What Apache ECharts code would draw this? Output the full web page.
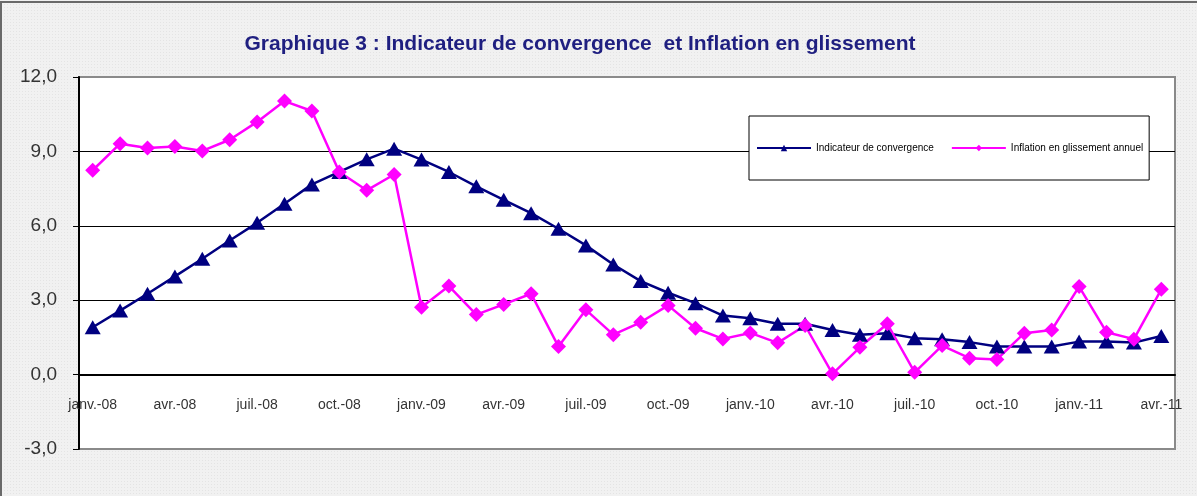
<!DOCTYPE html>
<html>
<head>
<meta charset="utf-8">
<script src="https://cdn.jsdelivr.net/npm/echarts@6/dist/echarts.min.js"></script>
<style>
    html, body { margin: 0; padding: 0; }
    body {
        width: 1197px; height: 496px; overflow: hidden;
        background-color: #f1f1f1;
        background-image: radial-gradient(#e4e4e4 0.8px, transparent 0.9px);
        background-size: 3px 3px;
    }
    #frame {
        position: absolute; left: 0; top: 1px; width: 1197px; height: 495px;
        border-top: 2px solid #6a6a6a; border-left: 2px solid #6a6a6a;
        box-sizing: border-box; pointer-events: none;
    }
    #chart { position: absolute; left: 0; top: 0; width: 1197px; height: 496px; }
</style>
</head>
<body>
<div id="chart"></div>
<div id="frame"></div>
<script>
    // mois de janv.-08 a avr.-11
    var moisNoms = ['janv.', 'févr.', 'mars', 'avr.', 'mai', 'juin', 'juil.', 'août', 'sept.', 'oct.', 'nov.', 'déc.'];
    var annees = ['08', '09', '10', '11'];
    var categories = [];
    annees.forEach(function (a) {
        moisNoms.forEach(function (m) {
            if (categories.length < 40) categories.push(m + '-' + a);
        });
    });

    var indicateur = [
        1.91, 2.58, 3.26, 3.96, 4.67, 5.41, 6.12, 6.89, 7.67, 8.17, 8.68, 9.11,
        8.67, 8.17, 7.59, 7.05, 6.51, 5.88, 5.21, 4.44, 3.77, 3.30, 2.88, 2.38,
        2.27, 2.05, 2.05, 1.80, 1.61, 1.67, 1.47, 1.43, 1.31, 1.13, 1.13, 1.13,
        1.33, 1.33, 1.29, 1.56
    ];
    var inflation = [
        8.24, 9.31, 9.14, 9.20, 9.02, 9.47, 10.19, 11.03, 10.63, 8.17, 7.43, 8.07,
        2.72, 3.57, 2.42, 2.83, 3.26, 1.13, 2.61, 1.61, 2.11, 2.79, 1.87, 1.44,
        1.68, 1.28, 1.98, 0.03, 1.10, 2.05, 0.09, 1.17, 0.66, 0.61, 1.67, 1.80,
        3.55, 1.71, 1.43, 3.44
    ];

    var yMin = -3, yMax = 12;
    var gridTop = 77, gridBottom = 47, chartHeight = 496;
    // deplacer l'axe des x sur la valeur 0
    var plotH = chartHeight - gridTop - gridBottom;
    var zeroOffset = -plotH * (0 - yMin) / (yMax - yMin);

    var chart = echarts.init(document.getElementById('chart'));

    var option = {
        animation: false,
        backgroundColor: 'transparent',
        title: {
            text: 'Graphique 3 : Indicateur de convergence  et Inflation en glissement',
            left: 575,
            textAlign: 'center',
            top: 29,
            textStyle: {
                fontFamily: 'Liberation Sans, Arial, sans-serif',
                fontSize: 21,
                fontWeight: 'bold',
                color: '#1f1f80'
            }
        },
        legend: {
            left: 749,
            top: 116,
            orient: 'horizontal',
            backgroundColor: '#fff',
            borderColor: '#000',
            borderWidth: 1,
            padding: [27, 6, 27, 7],
            itemWidth: 54,
            itemHeight: 8,
            itemGap: 17,
            textStyle: {
                fontFamily: 'Liberation Sans, Arial, sans-serif',
                fontSize: 10,
                color: '#000'
            },
            data: ['Indicateur de convergence', 'Inflation en glissement annuel']
        },
        grid: {
            left: 79,
            right: 22,
            top: gridTop,
            bottom: gridBottom,
            show: true,
            backgroundColor: '#fff',
            borderColor: '#8a8a8a',
            borderWidth: 2
        },
        xAxis: {
            type: 'category',
            data: categories,
            boundaryGap: true,
            position: 'bottom',
            offset: zeroOffset,
            axisLine: { onZero: false, lineStyle: { color: '#000', width: 2 } },
            axisTick: { interval: 2, length: 6, lineStyle: { color: '#000', width: 1 } },
            axisLabel: {
                interval: 2,
                margin: 24,
                fontFamily: 'Liberation Sans, Arial, sans-serif',
                fontSize: 14,
                color: '#333'
            },
            splitLine: { show: false }
        },
        yAxis: {
            type: 'value',
            min: yMin,
            max: yMax,
            interval: 3,
            axisLine: { show: true, lineStyle: { color: '#000', width: 2 } },
            axisTick: { show: true, length: 6, lineStyle: { color: '#000' } },
            axisLabel: {
                margin: 22,
                fontFamily: 'Liberation Sans, Arial, sans-serif',
                fontSize: 19,
                color: '#333',
                formatter: function (v) { return v.toFixed(1).replace('.', ','); }
            },
            splitLine: {
                show: true,
                showMinLine: false,
                showMaxLine: false,
                lineStyle: { color: '#000', width: 1 }
            }
        },
        series: [
            {
                name: 'Indicateur de convergence',
                type: 'line',
                data: indicateur,
                symbol: 'triangle',
                symbolSize: [16, 14],
                lineStyle: { color: '#000080', width: 2.5 },
                itemStyle: { color: '#000080' }
            },
            {
                name: 'Inflation en glissement annuel',
                type: 'line',
                data: inflation,
                symbol: 'diamond',
                symbolSize: 15,
                lineStyle: { color: '#ff00ff', width: 2.5 },
                itemStyle: { color: '#ff00ff' }
            }
        ]
    };

    chart.setOption(option);
</script>
</body>
</html>
